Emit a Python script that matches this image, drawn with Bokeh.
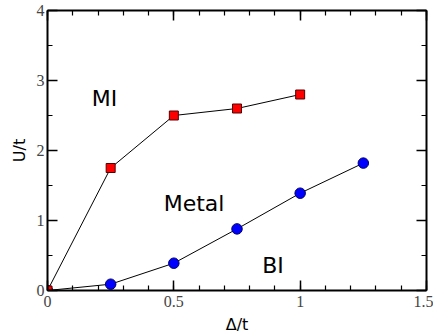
from bokeh.plotting import figure
from bokeh.models import LinearAxis, SingleIntervalTicker, Range1d, Label
from bokeh.embed import file_html
from bokeh.resources import INLINE

# Phase boundaries in the (Delta/t, U/t) plane
mi_delta = [0.0, 0.25, 0.5, 0.75, 1.0]
mi_u = [0.0, 1.75, 2.5, 2.6, 2.8]

bi_delta = [0.0, 0.25, 0.5, 0.75, 1.0, 1.25]
bi_u = [0.0, 0.09, 0.39, 0.88, 1.39, 1.82]

# Phase names and where they sit
phase_names = ["MI", "Metal", "BI"]
phase_x = [0.175, 0.46, 0.85]
phase_y = [2.75, 1.24, 0.36]

p = figure(width=433, height=336, output_backend="svg", toolbar_location=None,
           x_range=Range1d(0, 1.5), y_range=Range1d(0, 4),
           min_border_left=47, min_border_right=7, min_border_top=10,
           min_border_bottom=42, x_axis_label="Δ/t", y_axis_label="U/t")
p.background_fill_color = "white"
p.border_fill_color = "white"
p.grid.visible = False
p.outline_line_color = None

x_ticker = SingleIntervalTicker(interval=0.5, num_minor_ticks=5)
y_ticker = SingleIntervalTicker(interval=1, num_minor_ticks=2)
p.xaxis.ticker = x_ticker
p.yaxis.ticker = y_ticker
p.add_layout(LinearAxis(ticker=x_ticker), "above")
p.add_layout(LinearAxis(ticker=y_ticker), "right")

for ax in p.axis:
    ax.axis_line_width = 2
    ax.axis_line_color = "black"
    ax.major_tick_in = 10
    ax.major_tick_out = 0
    ax.minor_tick_in = 5
    ax.minor_tick_out = 0
    ax.major_tick_line_width = 1.5
    ax.minor_tick_line_width = 1.2
    ax.major_label_text_font = "Liberation Serif"
    ax.major_label_text_font_size = "16px"
    ax.major_label_text_color = "#444444"
    ax.major_label_text_line_height = 0.9
    ax.axis_label_text_font = "DejaVu Sans"
    ax.axis_label_text_font_size = "16px"
    ax.axis_label_text_font_style = "normal"
    ax.axis_label_text_color = "black"
    ax.axis_label_text_line_height = 0.9

p.xaxis[0].major_label_standoff = 1
p.yaxis[0].major_label_standoff = 3
p.xaxis[0].axis_label_standoff = 0
p.yaxis[0].axis_label_standoff = 5
p.xaxis[0].major_label_overrides = {0: "0", 0.5: "0.5", 1: "1", 1.5: "1.5"}

# Top and right axes carry ticks only
for extra in (p.above[0], p.right[0]):
    extra.major_label_text_color = None
    extra.major_label_text_font_size = "1px"
    extra.major_label_standoff = 0

# Band-insulator boundary
p.line(bi_delta, bi_u, line_color="black", line_width=1)
p.scatter(bi_delta, bi_u, marker="circle", size=10.5, fill_color="#0000ff",
          line_color="#000066", line_width=1)

# Mott-insulator boundary
p.line(mi_delta, mi_u, line_color="black", line_width=1)
p.scatter(mi_delta, mi_u, marker="square", size=9, fill_color="#ff0000",
          line_color="#550000", line_width=1)

for name, x, y in zip(phase_names, phase_x, phase_y):
    p.add_layout(Label(x=x, y=y, text=name, text_font="DejaVu Sans",
                       text_font_size="22px", text_color="black",
                       text_baseline="alphabetic"))

open("out.html", "w").write(file_html(p, INLINE))
